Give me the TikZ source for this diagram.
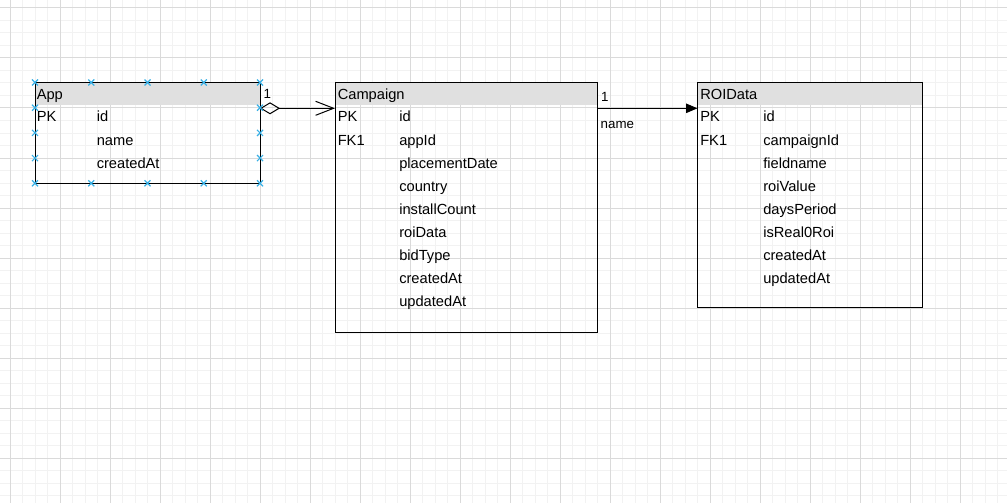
\documentclass[tikz,border=0pt]{standalone}
\usepackage{fontspec}
\setmainfont{Liberation Sans}
\usetikzlibrary{arrows.meta}

\definecolor{headfill}{RGB}{224,224,224}
\definecolor{gridminor}{RGB}{242,242,242}
\definecolor{gridmajor}{RGB}{218,218,218}
\definecolor{handle}{RGB}{56,176,230}

\tikzset{
  tabhead/.style={fill=headfill,anchor=north west,minimum height=17.25pt,inner sep=0pt,outer sep=0pt},
  tabframe/.style={draw,line width=0.75pt,anchor=north west,inner sep=0pt,outer sep=0pt},
  field/.style={anchor=base west,inner sep=0pt,font=\fontsize{11}{13}\selectfont},
  lbl/.style={anchor=base west,inner sep=0pt,font=\fontsize{10}{12}\selectfont},
  assoc/.style={line width=0.75pt},
  handlemark/.style={draw=handle,line width=0.9pt}
}

\begin{document}
\begin{tikzpicture}[x=0.75pt,y=-0.75pt]
    \useasboundingbox (0,0) rectangle (1007,503);
    \fill[white] (0,0) rectangle (1007,503);
    % grid
    \foreach \i in {0,...,79} \draw[gridminor,line width=0.75pt] ({10+12.5*\i},0) -- ({10+12.5*\i},503);
    \foreach \i in {0,...,39} \draw[gridminor,line width=0.75pt] (0,{8+12.5*\i}) -- (1007,{8+12.5*\i});
    \foreach \i in {0,...,19} \draw[gridmajor,line width=0.75pt] ({10+50*\i},0) -- ({10+50*\i},503);
    \foreach \i in {0,...,9} \draw[gridmajor,line width=0.75pt] (0,{8+50*\i}) -- (1007,{8+50*\i});

    % tables
    \node[tabhead,minimum width=168.75pt](apphead)at(35,82.5) {};
    \node[tabframe,minimum width=168.75pt,minimum height=75.6pt](app)at(35,82.5) {};
    \node[tabhead,minimum width=196.9pt](camphead)at(335,82.5) {};
    \node[tabframe,minimum width=196.9pt,minimum height=187.8pt](campaign)at(335,82.5) {};
    \node[tabhead,minimum width=168.75pt](roihead)at(697.5,82.5) {};
    \node[tabframe,minimum width=168.75pt,minimum height=169pt](roidata)at(697.5,82.5) {};

    \node[field](app-t)at(36.5,99.3) {App};
    \node[field](app-pk)at(36.5,122) {PK};
    \foreach \f [count=\i] in {id,name,createdAt}
        \node[field](app-f\i)at(96.5,{99+23*\i}) {\f};

    \node[field](camp-t)at(337.5,99.5) {Campaign};
    \node[field](camp-pk)at(337.5,122) {PK};
    \node[field](camp-fk)at(337.5,145) {FK1};
    \foreach \f [count=\i] in {id,appId,placementDate,country,installCount,roiData,bidType,createdAt,updatedAt}
        \node[field](camp-f\i)at(399,{99+23*\i}) {\f};

    \node[field](roi-t)at(700,99.5) {ROIData};
    \node[field](roi-pk)at(700,122) {PK};
    \node[field](roi-fk)at(700,145) {FK1};
    \foreach \f [count=\i] in {id,campaignId,fieldname,roiValue,daysPeriod,isReal0Roi,createdAt,updatedAt}
        \node[field](roi-f\i)at(763,{99+23*\i}) {\f};

    % connectors
    \draw[assoc,{Diamond[open,length=15pt,width=9pt]}-{Straight Barb[length=13.5pt,width=10.5pt]}]
        ([yshift=-2.1pt]apphead.south east) --node[lbl,at start,xshift=2.3pt,yshift=7.5pt]{1} ([yshift=-2.1pt]camphead.south west);
    \draw[assoc,-{Triangle[length=8.5pt,width=7pt]}]
        ([yshift=-2.1pt]camphead.south east) --node[lbl,at start,xshift=2.3pt,yshift=5pt]{1}
        node[lbl,at start,xshift=2pt,yshift=-15.5pt]{name} ([yshift=-2.1pt]roihead.south west);

    % selection handles
    \foreach \x in {35,91.25,147.5,203.75,260}
        \foreach \y in {82.5,183.3}
            \draw[handlemark,shift={(\x,\y)}] (-3,-3) -- (3,3) (-3,3) -- (3,-3);
    \foreach \x in {35,260}
        \foreach \y in {107.7,132.9,158.1}
            \draw[handlemark,shift={(\x,\y)}] (-3,-3) -- (3,3) (-3,3) -- (3,-3);
\end{tikzpicture}
\end{document}
